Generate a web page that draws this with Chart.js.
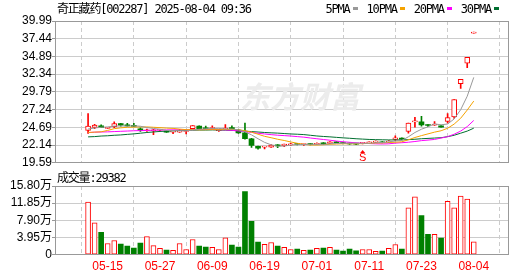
<!DOCTYPE html>
<html>
<head>
<meta charset="utf-8">
<script src="https://cdn.jsdelivr.net/npm/chart.js@4.4.1/dist/chart.umd.min.js"></script>
<style>
    html, body { margin: 0; padding: 0; background: #fff; }
    #wrap { position: relative; width: 530px; height: 276px; overflow: hidden; }
    #priceCanvas { position: absolute; left: 0; top: 0; }
    #volCanvas { position: absolute; left: 0; top: 170px; }
</style>
</head>
<body>
<div id="wrap">
    <canvas id="priceCanvas" width="530" height="170"></canvas>
    <canvas id="volCanvas" width="530" height="106"></canvas>
</div>
<script>
// trading days shown (MM-DD)
var dates = ['05-12', '05-13', '05-14', '05-15', '05-16', '05-19', '05-20', '05-21', '05-22', '05-23',
    '05-26', '05-27', '05-28', '05-29', '05-30', '06-03', '06-04', '06-05', '06-06', '06-09',
    '06-10', '06-11', '06-12', '06-13', '06-16', '06-17', '06-18', '06-19', '06-20', '06-23',
    '06-24', '06-25', '06-26', '06-27', '06-30', '07-01', '07-02', '07-03', '07-04', '07-07',
    '07-08', '07-09', '07-10', '07-11', '07-14', '07-15', '07-16', '07-17', '07-18', '07-21',
    '07-22', '07-23', '07-24', '07-25', '07-28', '07-29', '07-30', '07-31', '08-01', '08-04'];

var openP = [24.26, 24.68, 24.91, 24.55, 24.77, 25.24, 25.05, 24.92, 24.49, 24.20,
    24.20, 24.28, 24.16, 23.98, 23.98, 24.10, 24.49, 24.87, 24.55, 24.50,
    24.20, 24.45, 24.60, 24.30, 23.90, 23.05, 21.95, 21.85, 21.85, 22.16,
    22.05, 22.16, 22.30, 22.20, 22.30, 22.25, 22.48, 22.39, 22.62, 22.45,
    22.40, 22.35, 22.39, 22.45, 22.53, 22.62, 22.55, 22.95, 23.13, 24.12,
    25.47, 25.50, 25.00, 25.00, 24.90, 25.56, 26.20, 30.98, 33.92, 38.25];
var highP = [26.68, 25.14, 25.05, 24.68, 25.47, 25.26, 25.28, 25.28, 24.63, 24.45,
    24.40, 24.40, 24.20, 24.16, 24.40, 24.22, 24.96, 24.90, 24.87, 24.90,
    24.30, 25.10, 24.90, 24.40, 25.30, 23.10, 22.00, 21.92, 22.20, 22.20,
    22.30, 22.39, 22.35, 22.30, 22.35, 22.48, 22.50, 22.65, 22.65, 22.50,
    22.45, 22.40, 22.55, 22.60, 22.75, 22.65, 22.80, 23.46, 23.20, 25.30,
    26.12, 26.27, 25.10, 25.52, 24.95, 26.68, 28.70, 31.60, 34.77, 38.25];
var lowP = [23.80, 24.50, 24.63, 24.50, 24.63, 24.85, 24.85, 24.82, 24.12, 24.10,
    23.65, 24.20, 23.95, 23.79, 23.95, 23.75, 24.45, 24.50, 24.45, 24.45,
    24.10, 24.40, 24.45, 23.80, 23.00, 21.80, 21.55, 21.60, 21.80, 21.78,
    21.90, 22.06, 22.15, 22.10, 22.15, 22.20, 22.20, 22.35, 22.45, 22.30,
    22.25, 22.20, 22.30, 22.40, 22.50, 22.45, 22.50, 22.76, 22.95, 23.84,
    24.72, 24.85, 24.80, 24.95, 24.70, 25.30, 25.98, 30.30, 33.27, 38.25];
var closeP = [24.86, 25.00, 24.65, 24.60, 25.24, 25.00, 24.88, 24.84, 24.30, 24.30,
    24.32, 24.33, 23.98, 24.16, 24.26, 24.20, 24.96, 24.50, 24.48, 24.52,
    24.25, 24.52, 24.50, 23.90, 23.05, 22.10, 21.70, 21.90, 22.15, 22.02,
    22.30, 22.30, 22.22, 22.24, 22.20, 22.30, 22.25, 22.62, 22.48, 22.35,
    22.30, 22.28, 22.50, 22.55, 22.72, 22.48, 22.70, 23.18, 23.00, 25.30,
    25.55, 25.05, 24.95, 25.05, 24.72, 26.08, 28.70, 31.60, 34.77, 38.25];

// volume in 万
var vol = [12.1, 7.35, 5.15, 2.58, 3.26, 2.42, 1.97, 1.5, 2.65, 4.17,
    2.1, 1.44, 1.06, 1.0, 2.58, 1.2, 3.5, 1.97, 1.74, 1.67,
    1.2, 3.9, 2.2, 1.74, 14.5, 7.65, 2.9, 2.4, 2.8, 2.0,
    1.7, 1.2, 1.3, 1.0, 1.06, 1.44, 1.5, 1.67, 1.06, 0.83,
    1.29, 0.9, 1.2, 1.2, 0.76, 0.83, 1.44, 2.35, 1.3, 10.76,
    13.3, 9.0, 4.7, 4.7, 3.8, 12.3, 10.76, 13.5, 12.8, 2.9382];

var ma5 = [24.45, 24.60, 24.70, 24.75, 24.87, 24.90, 24.87, 24.91, 24.85, 24.66,
    24.53, 24.42, 24.25, 24.22, 24.21, 24.19, 24.31, 24.42, 24.48, 24.53,
    24.54, 24.45, 24.45, 24.34, 24.04, 23.61, 23.05, 22.53, 22.18, 21.97,
    22.01, 22.13, 22.20, 22.22, 22.25, 22.25, 22.24, 22.32, 22.37, 22.40,
    22.40, 22.41, 22.38, 22.40, 22.47, 22.51, 22.59, 22.73, 22.82, 23.33,
    23.95, 24.42, 24.77, 25.18, 25.06, 25.17, 25.90, 27.23, 29.17, 31.88];
var ma10 = [23.95, 24.00, 24.05, 24.25, 24.50, 24.62, 24.70, 24.72, 24.75, 24.75,
    24.70, 24.65, 24.58, 24.54, 24.44, 24.36, 24.37, 24.33, 24.35, 24.37,
    24.36, 24.38, 24.40, 24.35, 24.20, 24.00, 23.70, 23.40, 23.20, 22.98,
    22.80, 22.59, 22.40, 22.25, 22.15, 22.15, 22.19, 22.26, 22.29, 22.33,
    22.33, 22.32, 22.35, 22.38, 22.44, 22.45, 22.50, 22.55, 22.61, 22.90,
    23.23, 23.50, 23.75, 24.00, 24.20, 24.56, 25.16, 26.00, 27.18, 28.47];
var ma20 = [23.93, 24.00, 24.02, 24.04, 24.08, 24.12, 24.16, 24.20, 24.22, 24.25,
    24.28, 24.30, 24.32, 24.33, 24.35, 24.35, 24.36, 24.37, 24.38, 24.38,
    24.36, 24.32, 24.26, 24.18, 24.08, 23.96, 23.84, 23.74, 23.64, 23.56,
    23.50, 23.44, 23.36, 23.28, 23.16, 23.05, 22.94, 22.84, 22.72, 22.62,
    22.54, 22.46, 22.40, 22.36, 22.32, 22.30, 22.32, 22.42, 22.48, 22.55,
    22.65, 22.78, 22.86, 22.95, 23.15, 23.35, 23.70, 24.15, 24.80, 25.68];
var ma30 = [23.32, 23.36, 23.44, 23.48, 23.55, 23.60, 23.68, 23.75, 23.85, 23.95,
    24.03, 24.10, 24.15, 24.20, 24.23, 24.25, 24.28, 24.30, 24.30, 24.32,
    24.30, 24.28, 24.25, 24.20, 24.15, 24.08, 24.02, 23.95, 23.90, 23.86,
    23.80, 23.74, 23.70, 23.65, 23.55, 23.45, 23.38, 23.32, 23.25, 23.18,
    23.12, 23.05, 23.00, 22.95, 22.92, 22.90, 22.88, 22.88, 22.88, 22.92,
    22.98, 23.05, 23.10, 23.15, 23.20, 23.35, 23.55, 23.85, 24.15, 24.57];

var maNames = ['5PMA', '10PMA', '20PMA', '30PMA'];
var priceTicks = [19.59, 22.14, 24.69, 27.24, 29.79, 32.34, 34.89, 37.44, 39.99];
var volTicks = [0, 3.95, 7.90, 11.85, 15.80];
var volTickLabels = ['0', '3.95万', '7.90万', '11.85万', '15.80万'];
var dateTickIdx = [3, 11, 19, 27, 35, 43, 51, 59];
var signalIdx = 42;
var stockTitle = '奇正藏药[002287] 2025-08-04 09:36';
var volTitle = '成交量:29382';

// styles
var RED = '#ff0000', GREEN = '#008000';
var maColors = ['#999999', '#f5a300', '#ff00ff', '#006f30'];
var monoFont = '12px "DejaVu Sans Mono", "Noto Sans CJK SC"';
var axisFont = { family: '"Liberation Sans", "Noto Sans CJK SC", sans-serif', size: 12 };
var xMin = -0.72, xMax = 60.05;

function isUp(i) {
    return closeP[i] >= openP[i];
}

function pts(arr) {
    return arr.map(function (v, i) { return { x: i, y: v }; });
}

function pairs(a, b) {
    return a.map(function (v, i) { return { x: i, y: [v, b[i]] }; });
}

var framePlugin = {
    id: 'frame',
    afterDraw: function (chart) {
        var a = chart.chartArea, ctx = chart.ctx;
        ctx.save();
        ctx.strokeStyle = '#999';
        ctx.lineWidth = 1;
        ctx.strokeRect(Math.round(a.left) + 0.5, Math.round(a.top) + 0.5,
            Math.round(a.right - a.left) - 1, Math.round(a.bottom - a.top) - 1);
        ctx.restore();
    }
};

var priceDecor = {
    id: 'priceDecor',
    beforeDatasetsDraw: function (chart) {
        var ctx = chart.ctx;
        ctx.save();
        ctx.font = 'bold italic 30px "Noto Sans CJK SC"';
        ctx.fillStyle = '#ececec';
        ctx.textAlign = 'center';
        ctx.textBaseline = 'middle';
        ctx.fillText('东方财富', 300, 97);
        ctx.restore();
    },
    afterDatasetsDraw: function (chart) {
        // buy/sell signal marker under the candle
        var ctx = chart.ctx;
        var x = chart.scales.x.getPixelForValue(signalIdx);
        var y = chart.scales.y.getPixelForValue(lowP[signalIdx]) + 6;
        ctx.save();
        ctx.fillStyle = RED;
        ctx.beginPath();
        ctx.moveTo(x, y);
        ctx.lineTo(x - 2.5, y + 3);
        ctx.lineTo(x + 2.5, y + 3);
        ctx.closePath();
        ctx.fill();
        ctx.font = '11px "Liberation Sans"';
        ctx.textAlign = 'center';
        ctx.textBaseline = 'top';
        ctx.fillText('S', x, y + 3);
        ctx.restore();
    },
    afterDraw: function (chart) {
        var ctx = chart.ctx;
        ctx.save();
        ctx.font = monoFont;
        ctx.letterSpacing = '-1.2px';
        ctx.fillStyle = '#000';
        ctx.textBaseline = 'alphabetic';
        ctx.fillText(stockTitle, 57, 12.5);
        var x = 325.5;
        for (var i = 0; i < maNames.length; i++) {
            ctx.fillStyle = '#000';
            ctx.fillText(maNames[i], x, 12.5);
            x += ctx.measureText(maNames[i]).width + 3;
            ctx.fillStyle = maColors[i];
            ctx.fillRect(Math.round(x), 7, 5, 3);
            x += 5 + 9;
        }
        ctx.restore();
    }
};

var volDecor = {
    id: 'volDecor',
    afterDraw: function (chart) {
        var ctx = chart.ctx;
        ctx.save();
        ctx.font = monoFont;
        ctx.letterSpacing = '-1.2px';
        ctx.fillStyle = '#000';
        ctx.fillText(volTitle, 57, 11.5);
        ctx.restore();
    }
};

var maSets = [ma5, ma10, ma20, ma30].map(function (arr, i) {
    return {
        type: 'line',
        label: maNames[i],
        data: pts(arr),
        borderColor: maColors[i],
        borderWidth: 1,
        pointRadius: 0,
        tension: 0,
        order: -1
    };
});

new Chart(document.getElementById('priceCanvas'), {
    type: 'bar',
    data: {
        datasets: maSets.concat([
            {
                label: 'body',
                data: pairs(openP, closeP),
                grouped: false,
                barThickness: 5,
                minBarLength: 1,
                borderSkipped: false,
                backgroundColor: function (c) { return isUp(c.dataIndex) ? '#fff' : GREEN; },
                borderColor: function (c) { return isUp(c.dataIndex) ? RED : GREEN; },
                borderWidth: function (c) { return isUp(c.dataIndex) ? 1 : 0; },
                order: 1
            },
            {
                label: 'wick',
                data: pairs(lowP, highP),
                grouped: false,
                barThickness: 1,
                minBarLength: 1,
                backgroundColor: function (c) { return isUp(c.dataIndex) ? RED : GREEN; },
                borderWidth: 0,
                order: 2
            }
        ])
    },
    options: {
        responsive: false,
        animation: false,
        devicePixelRatio: 1,
        layout: { padding: { left: 0, right: 21, top: 21, bottom: 3.4 } },
        plugins: { legend: { display: false }, tooltip: { enabled: false } },
        scales: {
            x: {
                type: 'linear',
                min: xMin,
                max: xMax,
                afterBuildTicks: function (s) { s.ticks = dateTickIdx.map(function (v) { return { value: v }; }); },
                afterFit: function (s) { s.height = 0; },
                ticks: { display: false },
                grid: { color: '#cccccc', drawTicks: false },
                border: { display: false, dash: [4, 3] }
            },
            y: {
                min: priceTicks[0],
                max: priceTicks[priceTicks.length - 1],
                afterBuildTicks: function (s) { s.ticks = priceTicks.map(function (v) { return { value: v }; }); },
                afterFit: function (s) { s.width = 55; },
                ticks: {
                    color: '#000',
                    font: axisFont,
                    padding: 0,
                    autoSkip: false,
                    callback: function (v) { return v.toFixed(2); }
                },
                grid: { color: '#cccccc', tickColor: '#999', tickLength: 3 },
                border: { display: false }
            }
        }
    },
    plugins: [priceDecor, framePlugin]
});

new Chart(document.getElementById('volCanvas'), {
    type: 'bar',
    data: {
        datasets: [{
            label: 'vol',
            data: pts(vol),
            barThickness: 5,
            borderSkipped: false,
            backgroundColor: function (c) { return isUp(c.dataIndex) ? '#fff' : GREEN; },
            borderColor: function (c) { return isUp(c.dataIndex) ? RED : GREEN; },
            borderWidth: function (c) { return isUp(c.dataIndex) ? 1 : 0; }
        }]
    },
    options: {
        responsive: false,
        animation: false,
        devicePixelRatio: 1,
        layout: { padding: { left: 0, right: 21, top: 16, bottom: 0 } },
        plugins: { legend: { display: false }, tooltip: { enabled: false } },
        scales: {
            x: {
                type: 'linear',
                min: xMin,
                max: xMax,
                afterBuildTicks: function (s) { s.ticks = dateTickIdx.map(function (v) { return { value: v }; }); },
                afterFit: function (s) { s.height = 21.3; },
                ticks: {
                    color: RED,
                    font: axisFont,
                    padding: 5,
                    maxRotation: 0,
                    autoSkip: false,
                    callback: function (v) { return dates[v]; }
                },
                grid: { color: '#cccccc', drawTicks: false },
                border: { display: false, dash: [4, 3] }
            },
            y: {
                min: volTicks[0],
                max: volTicks[volTicks.length - 1],
                afterBuildTicks: function (s) { s.ticks = volTicks.map(function (v) { return { value: v }; }); },
                afterFit: function (s) { s.width = 55; },
                ticks: {
                    color: '#000',
                    font: axisFont,
                    padding: 0,
                    autoSkip: false,
                    callback: function (v, i) { return volTickLabels[i]; }
                },
                grid: { color: '#cccccc', tickColor: '#999', tickLength: 3 },
                border: { display: false }
            }
        }
    },
    plugins: [volDecor, framePlugin]
});
</script>
</body>
</html>
